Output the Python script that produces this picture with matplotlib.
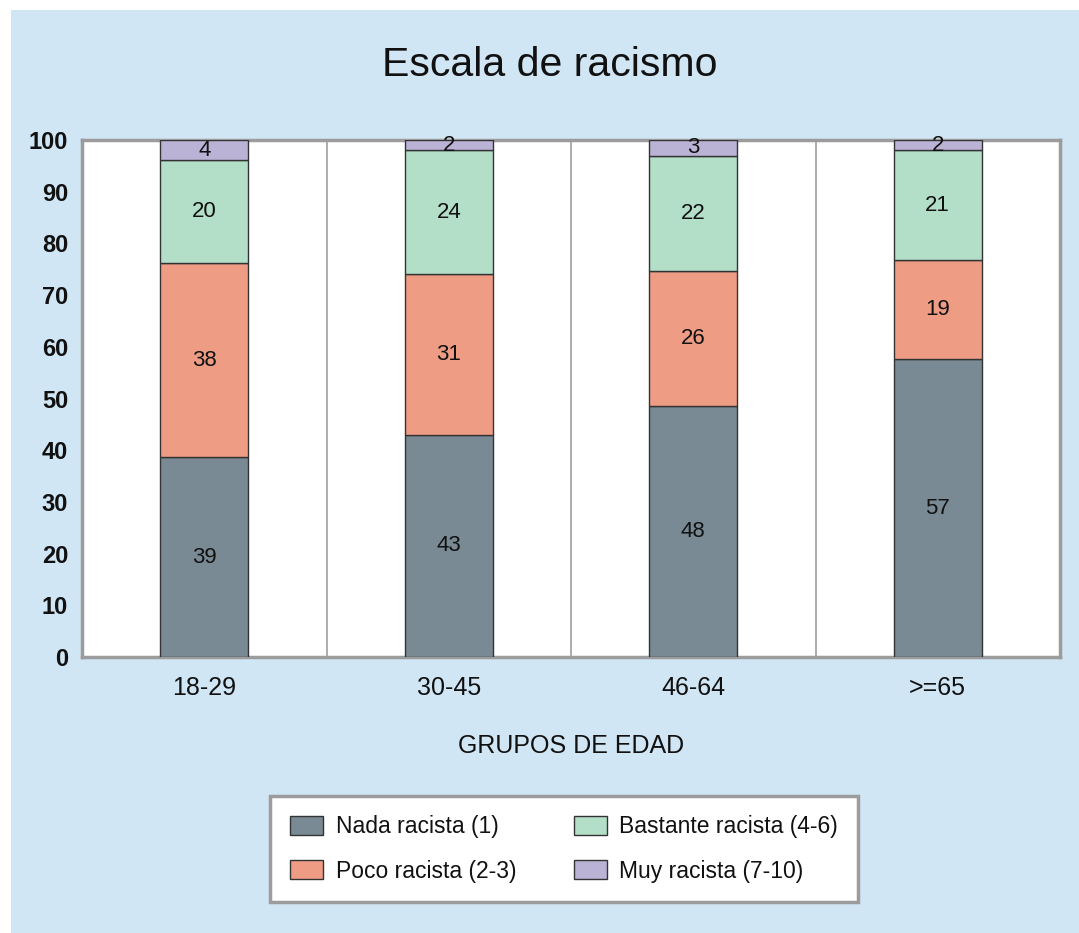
import matplotlib
matplotlib.use('Agg')
import matplotlib.pyplot as plt
from matplotlib.patches import Rectangle
import numpy as np

plt.rcParams['font.family'] = ['Liberation Sans', 'DejaVu Sans']

# data
groups = ['18-29', '30-45', '46-64', '>=65']
series = ['Nada racista (1)', 'Poco racista (2-3)', 'Bastante racista (4-6)', 'Muy racista (7-10)']
nada = [39, 43, 48, 57]
poco = [38, 31, 26, 19]
bastante = [20, 24, 22, 21]
muy = [4, 2, 3, 2]
colors = ['#798a94', '#ee9c84', '#b3dec8', '#bbb3d6']

vals = np.array([nada, poco, bastante, muy], dtype=float)
# 100% stacked columns, like the original spreadsheet chart
heights = vals / vals.sum(axis=0) * 100

fig = plt.figure(figsize=(10.79, 9.33), dpi=100)
fig.patch.set_facecolor('white')
fig.patches.append(Rectangle((11 / 1079, 0), 1, 1 - 10 / 933, transform=fig.transFigure,
                             facecolor='#d1e6f4', edgecolor='none', zorder=-10))

ax = fig.add_axes([82 / 1079, 1 - 657 / 933, (1060 - 82) / 1079, (657 - 140) / 933])
ax.set_facecolor('white')

x = np.arange(len(groups))
bottom = np.zeros(len(groups))
for i in range(len(series)):
    ax.bar(x, heights[i], 0.36, bottom=bottom, color=colors[i], edgecolor='#333333',
           linewidth=1, label=series[i], zorder=3)
    for j in range(len(groups)):
        ax.text(x[j], bottom[j] + heights[i][j] / 2, str(int(vals[i][j])), ha='center', va='center',
                fontsize=16, color='#111111', zorder=4)
    bottom += heights[i]

for b in [0.5, 1.5, 2.5]:
    ax.axvline(b, color='#a6a6a6', linewidth=1.3, zorder=1)

ax.set_xlim(-0.5, 3.5)
ax.set_ylim(0, 100)
ax.set_yticks(range(0, 101, 10))
ax.set_xticks(x)
ax.set_xticklabels(groups)
ax.tick_params(axis='both', length=0)
ax.tick_params(axis='y', pad=10, labelsize=17)
ax.tick_params(axis='x', pad=14, labelsize=18)
for t in ax.get_yticklabels():
    t.set_fontweight('bold')
    t.set_color('#111111')
for t in ax.get_xticklabels():
    t.set_color('#111111')
for s in ax.spines.values():
    s.set_color('#9c9c9c')
    s.set_linewidth(2.5)

ax.set_xlabel('GRUPOS DE EDAD', fontsize=18, color='#111111', labelpad=24)

fig.text(550 / 1079, 1 - 65 / 933, 'Escala de racismo', ha='center', va='center', fontsize=29.5, color='#111111')

leg = ax.legend(loc='center', bbox_to_anchor=(564 / 1079, 1 - 849 / 933), bbox_transform=fig.transFigure,
                ncol=2, fontsize=16.5, frameon=True, fancybox=False, framealpha=1,
                handlelength=1.45, handleheight=0.9, handletextpad=0.55, columnspacing=2.5,
                labelspacing=0.95, borderpad=0.85, borderaxespad=0)
leg.get_frame().set_edgecolor('#9c9c9c')
leg.get_frame().set_linewidth(2.5)
for t in leg.get_texts():
    t.set_color('#111111')

plt.savefig('out.png', dpi=100, facecolor=fig.get_facecolor())
